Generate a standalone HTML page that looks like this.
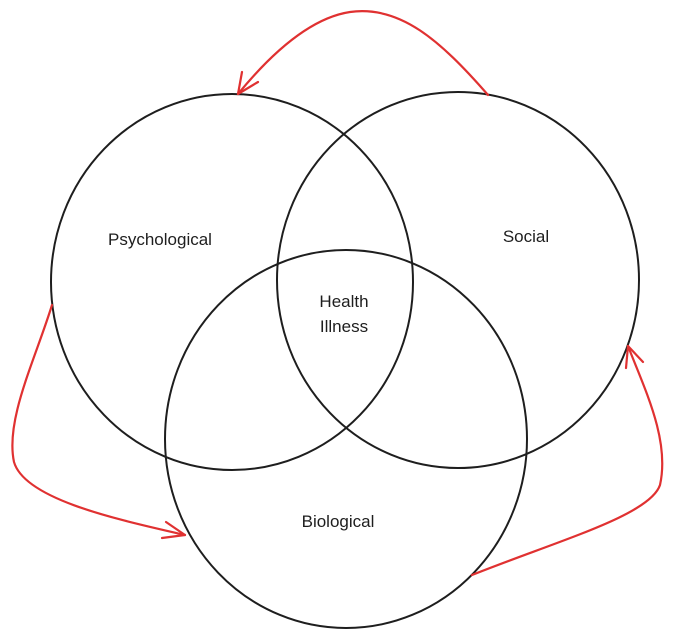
<!DOCTYPE html>
<html><head><meta charset="utf-8"><style>
html,body{margin:0;padding:0;background:#fff;}
svg{display:block}
text{font-family:"Liberation Sans",sans-serif;font-size:17px;fill:#1e1e1e;text-anchor:middle}
</style></head><body>
<svg width="673" height="637" viewBox="0 0 673 637" xmlns="http://www.w3.org/2000/svg">
<g fill="none" stroke="#1e1e1e" stroke-width="2">
<ellipse cx="232" cy="282" rx="181" ry="188"/>
<ellipse cx="458" cy="280" rx="181" ry="188"/>
<ellipse cx="346" cy="439" rx="181" ry="189"/>
</g>
<g fill="none" stroke="#e03131" stroke-width="2.2" stroke-linecap="round" stroke-linejoin="round">
<path d="M488 95 C 440 40, 400 5, 350 12 C 310 18, 270 55, 238 94"/>
<path d="M238 94 L 242 72 M238 94 L 258 82"/>
<path d="M52 305 C 35 360, 5 420, 14 462 C 25 500, 120 520, 185 535"/>
<path d="M185 535 L 162 538 M185 535 L 166 522"/>
<path d="M472 575 C 560 540, 650 515, 660 485 C 670 440, 645 390, 628 346"/>
<path d="M628 346 L 626 368 M628 346 L 643 362"/>
</g>
<text x="160" y="245">Psychological</text>
<text x="526" y="242">Social</text>
<text x="344" y="307">Health</text>
<text x="344" y="332">Illness</text>
<text x="338" y="527">Biological</text>
</svg>
</body></html>
